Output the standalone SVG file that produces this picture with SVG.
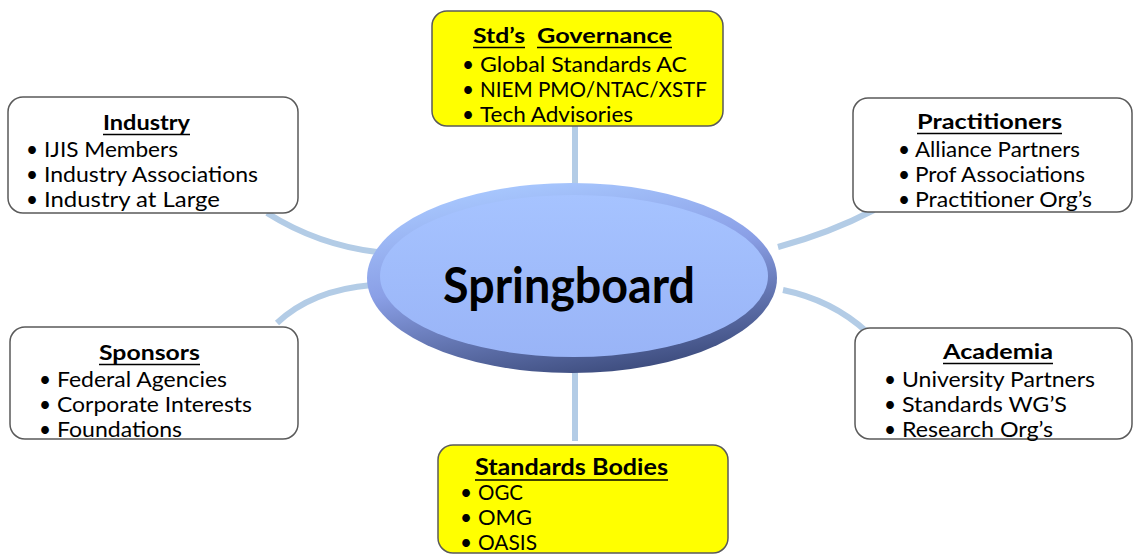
<svg xmlns="http://www.w3.org/2000/svg" width="1134" height="555" viewBox="0 0 1134 555">
<defs>
<linearGradient id="rim" x1="0.3" y1="0" x2="0.65" y2="1">
<stop offset="0" stop-color="#a9c9ff"/>
<stop offset="0.45" stop-color="#8a9fe6"/>
<stop offset="1" stop-color="#3c4b7c"/>
</linearGradient>
<linearGradient id="face" x1="0" y1="0" x2="0" y2="1">
<stop offset="0" stop-color="#a6c3ff"/>
<stop offset="1" stop-color="#99b4f7"/>
</linearGradient>
<style>
.box{stroke:#5a5a5a;stroke-width:1.5}
.white{fill:#ffffff}
.yellow{fill:#ffff00}
.conn{fill:none;stroke:#b3cce6;stroke-width:6}
text{font-family:Lato,"Open Sans","Liberation Sans",sans-serif;fill:#000}
.t{font-weight:bold;font-size:20px}
.b{font-size:20.8px}
.ul{stroke:#000;stroke-width:1.6}
</style>
</defs>
<rect width="1134" height="555" fill="#ffffff"/>
<g id="connectors">
<line class="conn" x1="575" y1="120" x2="575" y2="190"/>
<line class="conn" x1="575" y1="365" x2="575" y2="441"/>
<path class="conn" d="M267,213 Q318,245 377,252"/>
<path class="conn" d="M277,323 Q312,290 372,285"/>
<path class="conn" d="M778,247 Q830,233 874,210"/>
<path class="conn" d="M783,290 Q832,300 867,332"/>
</g>
<g id="springboard">
<ellipse cx="572" cy="278" rx="205" ry="95" fill="url(#rim)"/>
<ellipse cx="574" cy="276" rx="194" ry="81" fill="url(#face)"/>
<text x="443" y="303" font-size="49" font-weight="bold" textLength="252" lengthAdjust="spacingAndGlyphs">Springboard</text>
</g>
<g id="governance">
<rect class="box yellow" x="432" y="11" width="291" height="115" rx="15"/>
<text class="t" y="43"><tspan x="473" textLength="52" lengthAdjust="spacingAndGlyphs">Std’s</tspan><tspan x="537" textLength="135" lengthAdjust="spacingAndGlyphs">Governance</tspan></text>
<line class="ul" x1="473" y1="47.5" x2="525" y2="47.5"/>
<line class="ul" x1="537" y1="47.5" x2="672" y2="47.5"/>
<text class="b" x="462" y="72">•</text>
<text class="b" x="480" y="72" textLength="207" lengthAdjust="spacingAndGlyphs">Global Standards AC</text>
<text class="b" x="462" y="97">•</text>
<text class="b" x="480" y="97" textLength="227" lengthAdjust="spacingAndGlyphs">NIEM PMO/NTAC/XSTF</text>
<text class="b" x="462" y="122">•</text>
<text class="b" x="480" y="122" textLength="153" lengthAdjust="spacingAndGlyphs">Tech Advisories</text>
</g>
<g id="industry">
<rect class="box white" x="8" y="97" width="290" height="116" rx="15"/>
<text class="t" x="103" y="130" textLength="87" lengthAdjust="spacingAndGlyphs">Industry</text>
<line class="ul" x1="103" y1="134.5" x2="190" y2="134.5"/>
<text class="b" x="26" y="157">•</text>
<text class="b" x="44" y="157" textLength="134" lengthAdjust="spacingAndGlyphs">IJIS Members</text>
<text class="b" x="26" y="182">•</text>
<text class="b" x="44" y="182" textLength="214" lengthAdjust="spacingAndGlyphs">Industry Associations</text>
<text class="b" x="26" y="207">•</text>
<text class="b" x="44" y="207" textLength="176" lengthAdjust="spacingAndGlyphs">Industry at Large</text>
</g>
<g id="practitioners">
<rect class="box white" x="853" y="98" width="279" height="114" rx="15"/>
<text class="t" x="917" y="129" textLength="145" lengthAdjust="spacingAndGlyphs">Practitioners</text>
<line class="ul" x1="917" y1="133.5" x2="1062" y2="133.5"/>
<text class="b" x="898" y="157">•</text>
<text class="b" x="915" y="157" textLength="165" lengthAdjust="spacingAndGlyphs">Alliance Partners</text>
<text class="b" x="898" y="182">•</text>
<text class="b" x="915" y="182" textLength="170" lengthAdjust="spacingAndGlyphs">Prof Associations</text>
<text class="b" x="898" y="207">•</text>
<text class="b" x="915" y="207" textLength="177" lengthAdjust="spacingAndGlyphs">Practitioner Org’s</text>
</g>
<g id="sponsors">
<rect class="box white" x="10" y="327" width="288" height="112" rx="15"/>
<text class="t" x="99" y="360" textLength="101" lengthAdjust="spacingAndGlyphs">Sponsors</text>
<line class="ul" x1="99" y1="364.5" x2="200" y2="364.5"/>
<text class="b" x="39" y="387">•</text>
<text class="b" x="57" y="387" textLength="170" lengthAdjust="spacingAndGlyphs">Federal Agencies</text>
<text class="b" x="39" y="412">•</text>
<text class="b" x="57" y="412" textLength="195" lengthAdjust="spacingAndGlyphs">Corporate Interests</text>
<text class="b" x="39" y="437">•</text>
<text class="b" x="57" y="437" textLength="125" lengthAdjust="spacingAndGlyphs">Foundations</text>
</g>
<g id="academia">
<rect class="box white" x="855" y="328" width="277" height="111" rx="15"/>
<text class="t" x="943" y="359" textLength="110" lengthAdjust="spacingAndGlyphs">Academia</text>
<line class="ul" x1="943" y1="363.5" x2="1053" y2="363.5"/>
<text class="b" x="884" y="387">•</text>
<text class="b" x="902" y="387" textLength="193" lengthAdjust="spacingAndGlyphs">University Partners</text>
<text class="b" x="884" y="412">•</text>
<text class="b" x="902" y="412" textLength="165" lengthAdjust="spacingAndGlyphs">Standards WG’S</text>
<text class="b" x="884" y="437">•</text>
<text class="b" x="902" y="437" textLength="151" lengthAdjust="spacingAndGlyphs">Research  Org’s</text>
</g>
<g id="standards-bodies">
<rect class="box yellow" x="438" y="445" width="290" height="108" rx="15"/>
<text x="475" y="475" font-size="22" font-weight="bold" textLength="193" lengthAdjust="spacingAndGlyphs">Standards Bodies</text>
<line class="ul" x1="475" y1="480" x2="668" y2="480"/>
<text class="b" x="460" y="500">•</text>
<text class="b" x="478" y="500" textLength="45" lengthAdjust="spacingAndGlyphs">OGC</text>
<text class="b" x="460" y="525">•</text>
<text class="b" x="478" y="525" textLength="54" lengthAdjust="spacingAndGlyphs">OMG</text>
<text class="b" x="460" y="550">•</text>
<text class="b" x="478" y="550" textLength="59" lengthAdjust="spacingAndGlyphs">OASIS</text>
</g>
</svg>
